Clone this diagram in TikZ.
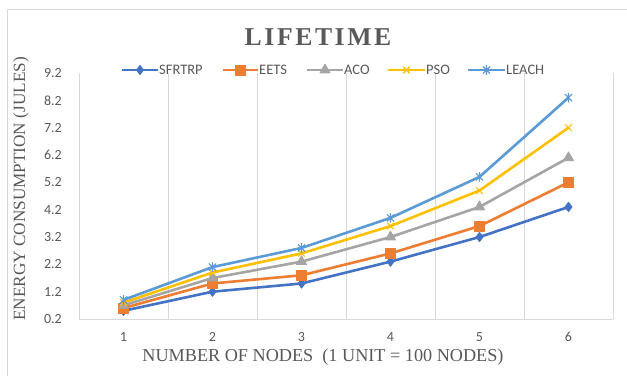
\documentclass[tikz,border=0pt]{standalone}
\usepackage{fontspec}
\setmainfont{Liberation Serif}
\newfontfamily\labelfont{Carlito}
\usetikzlibrary{plotmarks}
\definecolor{textgray}{RGB}{89,89,89}
\definecolor{gridgray}{RGB}{217,217,217}
\definecolor{sfrtrp}{RGB}{68,114,196}
\definecolor{eets}{RGB}{237,125,49}
\definecolor{aco}{RGB}{165,165,165}
\definecolor{pso}{RGB}{255,192,0}
\definecolor{leach}{RGB}{91,155,213}

% x with a vertical bar through it
\pgfdeclareplotmark{xstar}{%
  \pgfpathmoveto{\pgfpoint{-.75\pgfplotmarksize}{-.75\pgfplotmarksize}}%
  \pgfpathlineto{\pgfpoint{.75\pgfplotmarksize}{.75\pgfplotmarksize}}%
  \pgfpathmoveto{\pgfpoint{-.75\pgfplotmarksize}{.75\pgfplotmarksize}}%
  \pgfpathlineto{\pgfpoint{.75\pgfplotmarksize}{-.75\pgfplotmarksize}}%
  \pgfpathmoveto{\pgfpoint{0pt}{-\pgfplotmarksize}}%
  \pgfpathlineto{\pgfpoint{0pt}{\pgfplotmarksize}}%
  \pgfusepathqstroke}

\tikzset{
  series/.style={line width=2.6pt, line join=round, mark options={solid, line width=0.9pt}},
  sfrtrpline/.style={series, sfrtrp, mark=diamond*, mark size=4.6pt},
  eetsline/.style={series, eets, mark=square*, mark size=5pt},
  acoline/.style={series, aco, mark=triangle*, mark size=5.8pt},
  psoline/.style={series, pso, mark=x, mark size=4.6pt, mark options={line width=1.1pt}},
  leachline/.style={series, leach, mark=xstar, mark size=4.8pt, mark options={line width=1.1pt}},
}

\begin{document}
\begin{tikzpicture}[x=1pt, y=-1pt,
    ticklabel/.style={font=\labelfont\fontsize{14}{14}\selectfont, text=textgray, inner sep=1pt},
    legendtext/.style={font=\labelfont\fontsize{14.5}{14.5}\selectfont, text=textgray, inner sep=1pt, anchor=west},
    axistitle/.style={text=textgray, inner sep=0pt}]
  \useasboundingbox (0,0) rectangle (627,376);
  \fill[white] (0,0) rectangle (627,376);
  % chart frame
  \draw[gridgray, line width=1pt] (7,376) -- (7,9) -- (627,9);

  % title
  \node[font=\bfseries\fontsize{25.7}{25.7}\selectfont, text=textgray, inner sep=0pt] (title) at (318,37)
    {\addfontfeature{LetterSpace=10}LIFETIME};

  % category gridlines and x axis
  \foreach \k in {0,...,6}
    \draw[gridgray, line width=1pt] (79+89*\k,73) -- (79+89*\k,319);
  \draw[gridgray, line width=1pt] (79,319) -- (613,319);

  % tick labels
  \foreach \v [count=\j from 0] in {0.2,1.2,2.2,3.2,4.2,5.2,6.2,7.2,8.2,9.2}
    \node[ticklabel, anchor=east] at (63,319-27.33*\j) {\v};
  \foreach \i in {1,...,6}
    \node[ticklabel] at (34.5+89*\i,337) {\i};

  % axis titles
  \node[axistitle, font=\fontsize{17.2}{17.2}\selectfont, rotate=90] (ytitle) at (21,189) {ENERGY CONSUMPTION (JULES)};
  \node[axistitle, font=\fontsize{18.2}{18.2}\selectfont] (xtitle) at (323,357) {NUMBER OF NODES\ \ (1 UNIT = 100 NODES)};

  % data
  \begin{scope}[shift={(34.5pt,-324.47pt)}, x=89pt, y=27.33pt]
    \draw[sfrtrpline] plot coordinates {(1,0.5) (2,1.2) (3,1.5) (4,2.3) (5,3.2) (6,4.3)};
    \draw[eetsline] plot coordinates {(1,0.6) (2,1.5) (3,1.8) (4,2.6) (5,3.6) (6,5.2)};
    \draw[acoline] plot coordinates {(1,0.7) (2,1.7) (3,2.3) (4,3.2) (5,4.3) (6,6.1)};
    \draw[psoline] plot coordinates {(1,0.8) (2,1.9) (3,2.6) (4,3.6) (5,4.9) (6,7.2)};
    \draw[leachline] plot coordinates {(1,0.9) (2,2.1) (3,2.8) (4,3.9) (5,5.4) (6,8.3)};
  \end{scope}

  % legend
  \foreach \a/\b/\st/\name in {122/158/sfrtrpline/SFRTRP, 223/258/eetsline/EETS,
      307/343/acoline/ACO, 388/425/psoline/PSO, 468/505/leachline/LEACH} {
    \draw[\st, mark indices={2}] plot coordinates {(\a,70) ({(\a+\b)/2},70) (\b,70)};
    \node[legendtext] at (\b,70) {\name};
  }
\end{tikzpicture}
\end{document}
